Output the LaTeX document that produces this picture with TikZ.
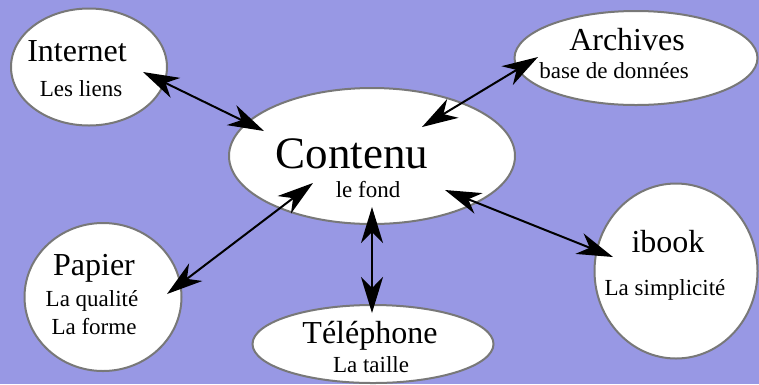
\documentclass[tikz,border=0pt]{standalone}
\usepackage{fontspec}
\setmainfont{Liberation Serif}
\usepackage{tikz}
\usetikzlibrary{shapes.geometric,arrows.meta}
\definecolor{fondbleu}{RGB}{152,152,228}
\definecolor{bord}{RGB}{120,120,120}
\tikzstyle{bulle}  = [ellipse, draw=bord, line width=2pt, fill=white, inner sep=0pt]
\tikzstyle{titre}  = [anchor=base, inner sep=0pt, font=\fontsize{32}{38}\selectfont]
\tikzstyle{sous}   = [anchor=base, inner sep=0pt, font=\fontsize{23}{27}\selectfont]
\tikzstyle{arrow}  = [line width=2pt, {Stealth[length=36pt,width=22pt,inset=11pt]}-{Stealth[length=36pt,width=22pt,inset=11pt]}]

\begin{document}
\begin{tikzpicture}[x=1pt,y=-1pt]
        \useasboundingbox (0,0) rectangle (759,384);
        \fill[fondbleu] (0,0) rectangle (759,384);

        % les bulles
        \node[bulle, minimum width=156pt, minimum height=117pt] (internet) at (89,67) {};
        \node[bulle, minimum width=286pt, minimum height=136pt] (contenu) at (372,156) {};
        \node[bulle, minimum width=243pt, minimum height=94pt] (archives) at (636,58) {};
        \node[bulle, minimum width=157pt, minimum height=148pt] (papier) at (103,297) {};
        \node[bulle, minimum width=241pt, minimum height=78pt] (telephone) at (373,344) {};
        \node[bulle, minimum width=163pt, minimum height=175pt] (ibook) at (676,271) {};

        % les textes
        \node[titre] (internet-t) at (77,61) {Internet};
        \node[sous] (internet-s) at (81,96) {Les liens};
        \node[titre, font=\fontsize{45}{54}\selectfont] (contenu-t) at (352,168) {Contenu};
        \node[sous] (contenu-s) at (368,197) {le fond};
        \node[titre] (archives-t) at (627,50) {Archives};
        \node[sous] (archives-s) at (614,78) {base de données};
        \node[titre] (papier-t) at (94,275) {Papier};
        \node[sous] (papier-s1) at (92,306) {La qualité};
        \node[sous] (papier-s2) at (94,334) {La forme};
        \node[titre] (telephone-t) at (370,343) {Téléphone};
        \node[sous] (telephone-s) at (371,372) {La taille};
        \node[titre] (ibook-t) at (668,252) {ibook};
        \node[sous] (ibook-s) at (665,295) {La simplicité};

        % bouts des fleches
        \coordinate (internet-a) at (143,72);
        \coordinate (contenu-a) at (264,131);
        \coordinate (archives-b) at (538,57);
        \coordinate (contenu-b) at (422,127);
        \coordinate (papier-c) at (167,294);
        \coordinate (contenu-c) at (313,183);
        \coordinate (contenu-d) at (372,207);
        \coordinate (telephone-d) at (372,313);
        \coordinate (contenu-e) at (445,190);
        \coordinate (ibook-e) at (613,257);

        \draw[arrow] (internet-a) -- (contenu-a);
        \draw[arrow] (archives-b) -- (contenu-b);
        \draw[arrow] (papier-c) -- (contenu-c);
        \draw[arrow] (contenu-d) -- (telephone-d);
        \draw[arrow] (contenu-e) -- (ibook-e);
    \end{tikzpicture}
\end{document}
